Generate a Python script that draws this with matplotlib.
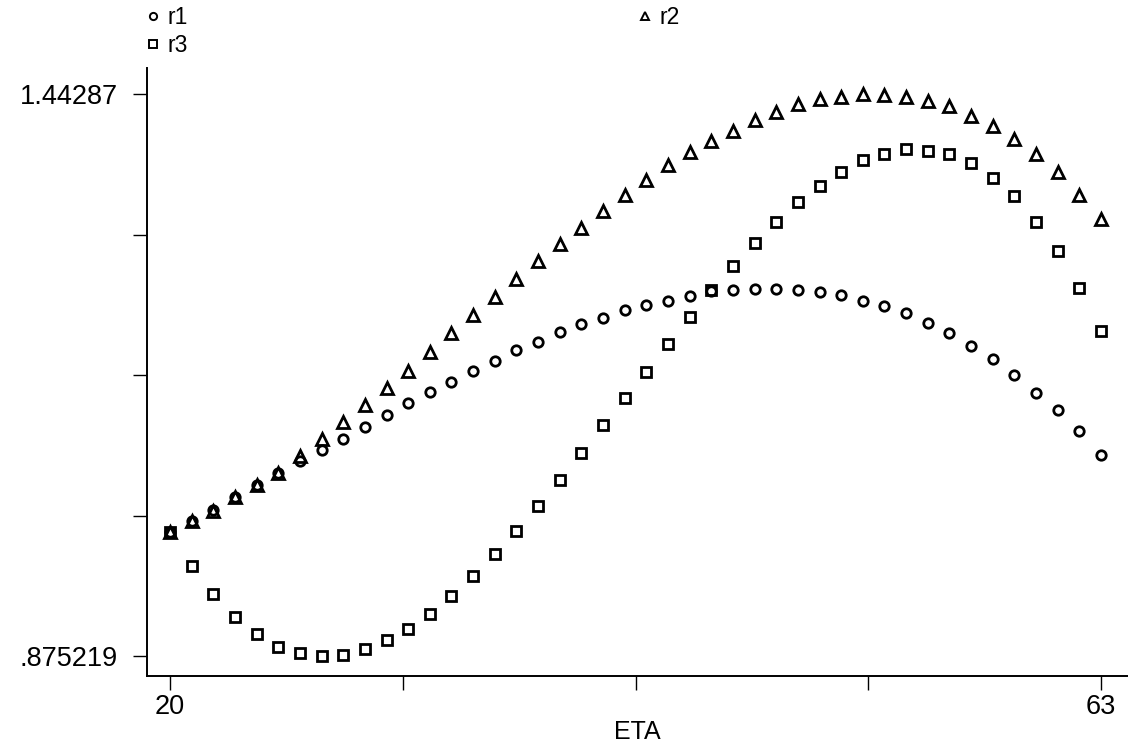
import numpy as np
import matplotlib
matplotlib.use("Agg")
import matplotlib.pyplot as plt
from matplotlib.lines import Line2D

plt.rcParams['font.family'] = ['Liberation Sans', 'DejaVu Sans']

# ---- data ----
eta = list(range(20, 64))

r1 = [1.0000, 1.0118, 1.0230, 1.0357, 1.0484, 1.0596, 1.0725, 1.0828, 1.0948, 1.1067,
      1.1183, 1.1304, 1.1423, 1.1523, 1.1635, 1.1734, 1.1842, 1.1926, 1.2022, 1.2106,
      1.2165, 1.2245, 1.2294, 1.2342, 1.2386, 1.2440, 1.2454, 1.2462, 1.2462, 1.2454,
      1.2427, 1.2400, 1.2338, 1.2290, 1.2214, 1.2114, 1.2014, 1.1885, 1.1757, 1.1592,
      1.1412, 1.1235, 1.1023, 1.0782]

r2 = [1.0000, 1.0118, 1.0218, 1.0357, 1.0476, 1.0605, 1.0776, 1.0944, 1.1116, 1.1283,
      1.1463, 1.1635, 1.1822, 1.2014, 1.2193, 1.2381, 1.2561, 1.2740, 1.2912, 1.3079,
      1.3251, 1.3410, 1.3561, 1.3709, 1.3838, 1.3950, 1.4058, 1.4163, 1.4251, 1.4323,
      1.4383, 1.4403, 1.44287, 1.4420, 1.4403, 1.4363, 1.4303, 1.4211, 1.4110, 1.3978,
      1.3822, 1.3641, 1.3408, 1.3168]

r3 = [1.0000, 0.9658, 0.9378, 0.9147, 0.8979, 0.8848, 0.8781, 0.875219, 0.8764, 0.8820,
      0.8912, 0.9027, 0.9179, 0.9359, 0.9559, 0.9778, 1.0010, 1.0269, 1.0529, 1.0805,
      1.1087, 1.1363, 1.1625, 1.1905, 1.2177, 1.2446, 1.2687, 1.2928, 1.3140, 1.3337,
      1.3497, 1.3641, 1.3758, 1.3822, 1.3870, 1.3850, 1.3818, 1.3730, 1.3581, 1.3400,
      1.3140, 1.2839, 1.2474, 1.2033]

y_min_label = 0.875219
y_max_label = 1.44287
xtick_labels = ['20', '', '', '', '63']
ytick_labels = ['.875219', '', '', '', '1.44287']

# ---- figure ----
W, H = 1128, 745
fig = plt.figure(figsize=(W / 100, H / 100), dpi=100)
ax_l, ax_r, ax_b, ax_t = 147, 1128, 676, 68
ax = fig.add_axes([ax_l / W, 1 - ax_b / H, (ax_r - ax_l) / W, (ax_b - ax_t) / H])

# axis limits from pixel geometry
px_per_x = (1101 - 170) / (63 - 20)
ax.set_xlim(20 - (170 - ax_l) / px_per_x, 63 + (ax_r - 1101) / px_per_x)
val_per_px = (y_max_label - y_min_label) / (656 - 94)
ax.set_ylim(y_min_label - (ax_b - 656) * val_per_px, y_max_label + (94 - ax_t) * val_per_px)

mkw = dict(linestyle='none', markerfacecolor='none', markeredgecolor='black',
           markeredgewidth=2.0)
ax.plot(eta, r1, marker='o', markersize=6.8, **mkw)
ax.plot(eta, r2, marker='^', markersize=8.0, **mkw)
ax.plot(eta, r3, marker='s', markersize=7.6, **mkw)

ax.set_xticks(np.linspace(20, 63, 5))
ax.set_xticklabels(xtick_labels)
ax.set_yticks(np.linspace(y_min_label, y_max_label, 5))
ax.set_yticklabels(ytick_labels)

for s in ['top', 'right']:
    ax.spines[s].set_visible(False)
for s in ['left', 'bottom']:
    ax.spines[s].set_linewidth(1.4)
ax.tick_params(axis='both', direction='out', length=10, width=1.0, labelsize=19.5,
               colors='black')
ax.tick_params(axis='y', pad=10.8)
ax.tick_params(axis='x', pad=3)
ax.set_xlabel('ETA', fontsize=18, labelpad=0)

# legend (two columns: r1/r3 on the left, r2 on the right)
lw = dict(linestyle='none', markerfacecolor='none', markeredgecolor='black',
          markeredgewidth=1.4)
h1 = Line2D([], [], marker='o', markersize=5.2, **lw)
h2 = Line2D([], [], marker='^', markersize=6.2, **lw)
h3 = Line2D([], [], marker='s', markersize=5.6, **lw)
legkw = dict(frameon=False, fontsize=16.5, handlelength=0.5, handletextpad=0.4,
             borderpad=0, borderaxespad=0, labelspacing=0.22, loc='upper left')
fig.legend([h1, h3], ['r1', 'r3'], bbox_to_anchor=(147 / W, 1 - 6 / H), **legkw)
fig.legend([h2], ['r2'], bbox_to_anchor=(639 / W, 1 - 6 / H), **legkw)

fig.savefig('out.png', dpi=100)
